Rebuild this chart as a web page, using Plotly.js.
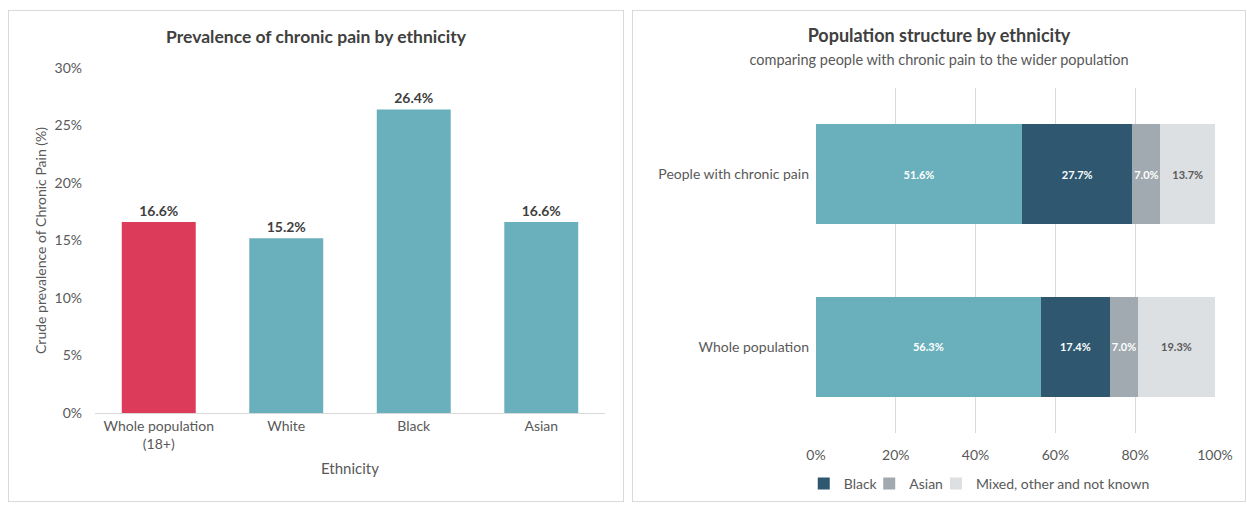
<!DOCTYPE html>
<html><head><meta charset="utf-8">
<script src="https://cdn.plot.ly/plotly-3.0.1.min.js"></script>
<style>
body{margin:0;background:#fff;width:1247px;height:506px;overflow:hidden;position:relative;}
.panel{position:absolute;top:10px;height:492px;border:1px solid #d9d9d9;box-sizing:border-box;}
#left{left:8px;width:616px;}
#right{left:632px;width:614px;}
</style></head><body>
<div id="left" class="panel"></div>
<div id="right" class="panel"></div>
<script>
// Left chart data
const ethnicCats = ['Whole population<br>(18+)', 'White', 'Black', 'Asian'];
const prevalence = [16.6, 15.2, 26.4, 16.6];
const barColors = ['#dc3b5a', '#6ab0bc', '#6ab0bc', '#6ab0bc'];

// Right chart data
const groups = ['People with chronic pain', 'Whole population'];
const seriesNames = ['White', 'Black', 'Asian', 'Mixed, other and not known'];
const whiteVals = [51.6, 56.3];
const blackVals = [27.7, 17.4];
const asianVals = [7.0, 7.0];
const mixedVals = [13.7, 19.3];
const seriesColors = ['#6ab0bc', '#2f5870', '#a0aab0', '#dde0e3'];
const textColors = ['#ffffff', '#ffffff', '#ffffff', '#595959'];

const FONT = 'Lato, Open Sans, sans-serif';
const GREY = '#595959';

Plotly.newPlot('left', [{
  type: 'bar', x: ethnicCats, y: prevalence,
  marker: {color: barColors},
  width: 0.58,
  text: prevalence.map(v => '<b>' + v.toFixed(1) + '%</b>'),
  textposition: 'outside', cliponaxis: false,
  textfont: {family: FONT, size: 14, color: '#404040'},
  hoverinfo: 'none'
}], {
  width: 614, height: 490,
  margin: {l: 86, r: 18, t: 57, b: 88},
  paper_bgcolor: '#fff', plot_bgcolor: '#fff',
  font: {family: FONT, color: GREY, size: 14},
  title: {text: '<b>Prevalence of chronic pain by ethnicity</b>', x: 0.5, xanchor: 'center', y: 0.947, yanchor: 'middle', font: {family: FONT, size: 17.5, color: '#404040'}},
  showlegend: false,
  xaxis: {type: 'category', showline: true, linecolor: '#d9d9d9', linewidth: 1, ticks: '', tickfont: {size: 14, color: GREY},
    title: {text: 'Ethnicity', font: {size: 15, color: GREY}, standoff: 12}},
  yaxis: {range: [0, 30], dtick: 5, ticksuffix: '%', showgrid: false, zeroline: false, showline: false, ticks: '',
    tickfont: {size: 14, color: GREY}, ticklabelstandoff: 12,
    title: {text: 'Crude prevalence of Chronic Pain (%)', font: {size: 14, color: GREY}, standoff: 4}}
}, {staticPlot: true});

const seriesVals = [whiteVals, blackVals, asianVals, mixedVals];
const legendIds = ['legend', 'legend2', 'legend3', 'legend4'];
const rightTraces = seriesNames.map((name, i) => ({
  type: 'bar', orientation: 'h', name: name,
  y: groups, x: seriesVals[i],
  marker: {color: seriesColors[i]},
  legend: legendIds[i],
  text: seriesVals[i].map(v => '<b>' + v.toFixed(1) + '%</b>'),
  textposition: 'inside', insidetextanchor: 'middle', constraintext: 'none', textangle: 0,
  textfont: {family: FONT, size: 11, color: textColors[i]},
  hoverinfo: 'none'
}));

const legendX = [0.168, 0.279, 0.386, 0.495];
const rightLayout = {
  width: 612, height: 490,
  margin: {l: 183, r: 30, t: 77, b: 68},
  barmode: 'stack', bargap: 0.42,
  paper_bgcolor: '#fff', plot_bgcolor: '#fff',
  font: {family: FONT, color: GREY, size: 14},
  title: {text: '<b>Population structure by ethnicity</b><br><span style="font-size:14.5px;font-weight:normal;color:#595959">comparing people with chronic pain to the wider population</span>',
    x: 0.5, xanchor: 'center', y: 0.937, yanchor: 'middle', font: {family: FONT, size: 18, color: '#404040'}},
  xaxis: {range: [0, 100], dtick: 20, ticksuffix: '%', showgrid: true, gridcolor: '#d9d9d9', zeroline: false, showline: false, ticks: '',
    tickfont: {size: 14, color: GREY}, ticklabelstandoff: 12},
  yaxis: {type: 'category', autorange: 'reversed', showgrid: false, showline: false, ticks: '', tickfont: {size: 14, color: GREY}, ticklabelstandoff: 6}
};
legendIds.forEach((id, i) => {
  rightLayout[id] = {orientation: 'h', xref: 'container', x: legendX[i], xanchor: 'left', yref: 'container', y: 0.035, yanchor: 'middle',
    font: {size: 14, color: GREY}, itemwidth: 30, bgcolor: 'rgba(0,0,0,0)'};
});

Plotly.newPlot('right', rightTraces, rightLayout, {staticPlot: true});
</script>
</body></html>
